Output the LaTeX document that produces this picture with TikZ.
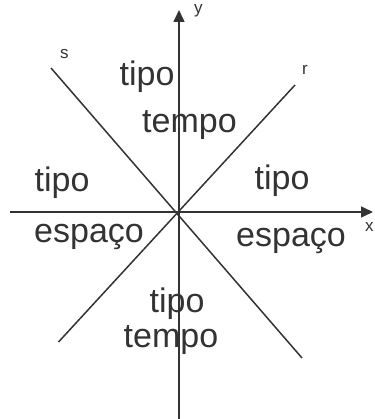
\documentclass[tikz,border=0pt]{standalone}
\usepackage{fontspec}
\setmainfont{Liberation Sans}
\usetikzlibrary{arrows.meta}

\begin{document}
\begin{tikzpicture}[
    x=1pt, y=1pt,
    axis/.style={draw=black!80, line width=1.5pt, -{Triangle[length=12pt, width=11pt]}},
    ray/.style={draw=black!80, line width=1.5pt},
    region/.style={inner sep=0pt, anchor=base west, text=black!80,
                   font=\fontsize{34}{37}\selectfont},
    lbl/.style={inner sep=0pt, anchor=base west, text=black!80,
                font=\fontsize{17}{19}\selectfont}
]
\useasboundingbox (0,0) rectangle (374,419);

% ---- Axes ----
\coordinate (xstart) at (10,207);
\coordinate (xend) at (373,207);
\coordinate (ystart) at (179,0);
\coordinate (yend) at (179,409);
\draw[axis] (xstart) -- (xend);
\draw[axis] (ystart) -- (yend);
\node[lbl] (xlbl) at (365,187) {x};
\node[lbl] (ylbl) at (194,405) {y};

% ---- Light lines r and s ----
\coordinate (sstart) at (51,351);
\coordinate (send) at (302,61);
\coordinate (rstart) at (58.5,77);
\coordinate (rend) at (295,334);
\draw[ray] (sstart) -- (send);
\draw[ray] (rstart) -- (rend);
\node[lbl] (slbl) at (60,360.5) {s};
\node[lbl] (rlbl) at (302,344) {r};

% ---- Regions ----
\node[region] (tipotop) at (119.5,333) {tipo};
\node[region] (tempotop) at (142,286) {tempo};
\node[region] (tipoleft) at (34.5,227.3) {tipo};
\node[region] (tiporight) at (254.5,229) {tipo};
\node[region] (espleft) at (34,176) {espaço};
\node[region] (espright) at (236,172.3) {espaço};
\node[region] (tipobot) at (149.5,106) {tipo};
\node[region] (tempobot) at (123.5,71) {tempo};

\end{tikzpicture}
\end{document}
